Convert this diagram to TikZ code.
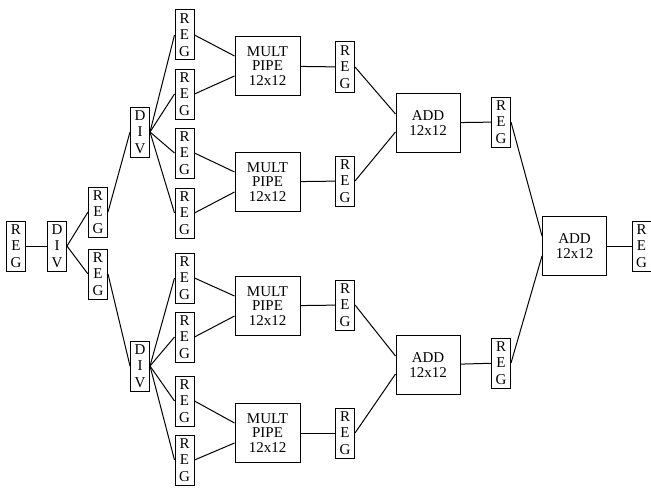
\documentclass[tikz,border=0pt]{standalone}
\usepackage{fontspec}
\setmainfont{Liberation Serif}
\begin{document}
\begin{tikzpicture}[x=0.6pt,y=-0.6pt,line width=0.6pt,
  every node/.style={font=\fontsize{9}{10}\selectfont},
  reg/.style={draw,align=center,inner sep=0pt,minimum width=11.4pt,minimum height=30pt,font=\fontsize{9}{10}\selectfont},
  mult/.style={draw,align=center,inner sep=0pt,minimum width=39pt,minimum height=35.4pt,font=\fontsize{9}{8.5}\selectfont},
  add/.style={draw,align=center,inner sep=0pt,minimum width=38.4pt,minimum height=35pt,font=\fontsize{9}{9.5}\selectfont}]
  \useasboundingbox (0,0) rectangle (651,487);
  \node[reg] (r0) at (16,246) {R\\E\\G};
  \node[reg] (d0) at (57,246) {D\\I\\V};
  \node[reg] (r1a) at (98,212) {R\\E\\G};
  \node[reg] (r1b) at (98,274) {R\\E\\G};
  \node[reg] (d1a) at (140,132) {D\\I\\V};
  \node[reg] (d1b) at (140,366) {D\\I\\V};
  \node[reg] (r2a) at (184.5,35) {R\\E\\G};
  \node[reg] (r2b) at (184.5,94) {R\\E\\G};
  \node[reg] (r2c) at (184.5,153) {R\\E\\G};
  \node[reg] (r2d) at (184.5,213) {R\\E\\G};
  \node[reg] (r2e) at (184.5,278) {R\\E\\G};
  \node[reg] (r2f) at (184.5,337) {R\\E\\G};
  \node[reg] (r2g) at (184.5,401) {R\\E\\G};
  \node[reg] (r2h) at (184.5,460) {R\\E\\G};
  \node[mult] (m1) at (267.5,66) {MULT\\PIPE\\12x12};
  \node[mult] (m2) at (267.5,182) {MULT\\PIPE\\12x12};
  \node[mult] (m3) at (267.5,306) {MULT\\PIPE\\12x12};
  \node[mult] (m4) at (267.5,433) {MULT\\PIPE\\12x12};
  \node[reg] (r3a) at (345,67) {R\\E\\G};
  \node[reg] (r3b) at (345,181) {R\\E\\G};
  \node[reg] (r3c) at (345,305) {R\\E\\G};
  \node[reg] (r3d) at (345,433) {R\\E\\G};
  \node[add] (a1) at (428,123) {ADD\\12x12};
  \node[add] (a2) at (428,365) {ADD\\12x12};
  \node[reg] (r4a) at (501,122) {R\\E\\G};
  \node[reg] (r4b) at (501,363) {R\\E\\G};
  \node[add] (a3) at (574.5,246) {ADD\\12x12};
  \node[reg] (r5) at (641.5,246) {R\\E\\G};
  % divider tree
  \draw (r0)--(d0);
  \draw (d0.east)--(r1a.west);
  \draw (d0.east)--(r1b.west);
  \draw (r1a.east)--(d1a.west);
  \draw (r1b.east)--(d1b.west);
  \foreach \r in {r2a,r2b,r2c,r2d} \draw (d1a.east)--(\r.west);
  \foreach \r in {r2e,r2f,r2g,r2h} \draw (d1b.east)--(\r.west);
  % multipliers
  \draw (r2a.east)--([yshift=6pt]m1.west);
  \draw (r2b.east)--([yshift=-6pt]m1.west);
  \draw (r2c.east)--([yshift=6pt]m2.west);
  \draw (r2d.east)--([yshift=-6pt]m2.west);
  \draw (r2e.east)--([yshift=6pt]m3.west);
  \draw (r2f.east)--([yshift=-6pt]m3.west);
  \draw (r2g.east)--([yshift=6pt]m4.west);
  \draw (r2h.east)--([yshift=-6pt]m4.west);
  \draw (m1)--(r3a); \draw (m2)--(r3b);
  \draw (m3)--(r3c); \draw (m4)--(r3d);
  % adders
  \draw (r3a.east)--([yshift=5.4pt]a1.west);
  \draw (r3b.east)--([yshift=-5.4pt]a1.west);
  \draw (r3c.east)--([yshift=5.4pt]a2.west);
  \draw (r3d.east)--([yshift=-5.4pt]a2.west);
  \draw (a1)--(r4a); \draw (a2)--(r4b);
  \draw (r4a.east)--([yshift=6pt]a3.west);
  \draw (r4b.east)--([yshift=-6pt]a3.west);
  \draw (a3)--(r5);
\end{tikzpicture}
\end{document}
